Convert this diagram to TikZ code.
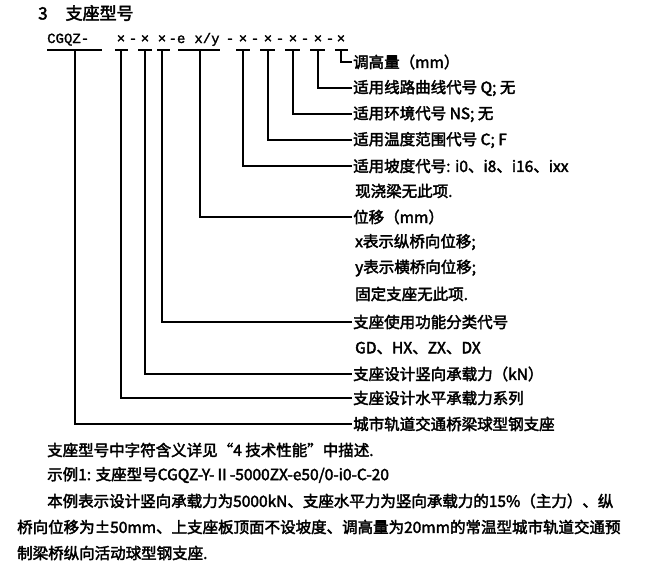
\documentclass[tikz,border=0pt]{standalone}
\usepackage{fontspec}
\newfontfamily\cjk{Noto Sans CJK SC}[FakeBold=2.5]
\setmonofont{Liberation Mono}[FakeBold=1.5]
\usetikzlibrary{positioning}
\tikzset{
  lbl/.style={anchor=west,inner sep=0pt,font=\cjk\fontsize{15.5}{15.5}\selectfont},
  code/.style={anchor=base,inner sep=0pt,font=\ttfamily\fontsize{14}{14}\selectfont},
  lead/.style={line width=1.2pt}
}
\begin{document}
\begin{tikzpicture}[x=1pt,y=-1pt]
\useasboundingbox (0,0) rectangle (651,565);
\node[lbl,font=\cjk\fontsize{17}{17}\selectfont] (title) at (38,13) {3\hspace{18pt}支座型号};
\node[code,anchor=base west] (codeA) at (47,43) {CGQZ-};
\node[code] (codeXY) at (207,43) {x/y};
%
% code symbols: text / centre x
\foreach \t/\x [count=\i] in {×/121, -/133, ×/145, ×/162, -e/177, -/230, ×/243, -/255,
    ×/268, -/280, ×/293, -/305, ×/318, -/330, ×/341}{
  \node[code] (c\i) at (\x,43) {\t};
}
%
% underlines and stems: left x, right x, stem x, label y
\foreach \n/\a/\b/\s/\y in {u1/47/102/75/424, u2/115/128/121/398, u3/138/152/145/374,
    u4/157/170/162/322, u5/178/220/200/217, u6/236/250/243/166, u7/260/275/268/140,
    u8/285/300/293/114, u9/310/325/318/88, u10/335/348/341/62}{
  \coordinate (\n-l) at (\a,50);
  \coordinate (\n-r) at (\b,50);
  \coordinate (\n-s) at (\s,50);
  \coordinate (\n-e) at (352,\y);
  \draw[lead] (\n-l) -- (\n-r);
  \draw[lead] (\n-s) |- (\n-e);
}
%
\node[lbl] (h1) at (353,62) {调高量（mm）};
\node[lbl] (h2) at (353,88) {适用线路曲线代号 Q; 无};
\node[lbl] (h3) at (353,114) {适用环境代号 NS; 无};
\node[lbl] (h4) at (353,140) {适用温度范围代号 C; F};
\node[lbl] (h5) at (353,166) {适用坡度代号: i0、i8、i16、ixx};
\node[lbl] (h5b) at (355,191) {现浇梁无此项.};
\node[lbl] (h6) at (353,217) {位移（mm）};
\node[lbl] (h6b) at (355,242) {x表示纵桥向位移;};
\node[lbl] (h6c) at (355,268) {y表示横桥向位移;};
\node[lbl] (h6d) at (355,294) {固定支座无此项.};
\node[lbl] (h7) at (353,322) {支座使用功能分类代号};
\node[lbl] (h7b) at (355,348) {GD、HX、ZX、DX};
\node[lbl] (h8) at (353,374) {支座设计竖向承载力（kN）};
\node[lbl] (h9) at (353,398) {支座设计水平承载力系列};
\node[lbl] (h10) at (353,424) {城市轨道交通桥梁球型钢支座};
%
\node[lbl] (t1) at (47,450) {支座型号中字符含义详见“4 技术性能”中描述.};
\node[lbl] (t2) at (47,475) {示例1: 支座型号CGQZ-Y-Ⅱ-5000ZX-e50/0-i0-C-20};
\node[lbl] (t3) at (47,501) {本例表示设计竖向承载力为5000kN、支座水平力为竖向承载力的15\%（主力）、纵};
\node[lbl] (t4) at (17,527) {桥向位移为±50mm、上支座板顶面不设坡度、调高量为20mm的常温型城市轨道交通预};
\node[lbl] (t5) at (17,553) {制梁桥纵向活动球型钢支座.};
\end{tikzpicture}
\end{document}
